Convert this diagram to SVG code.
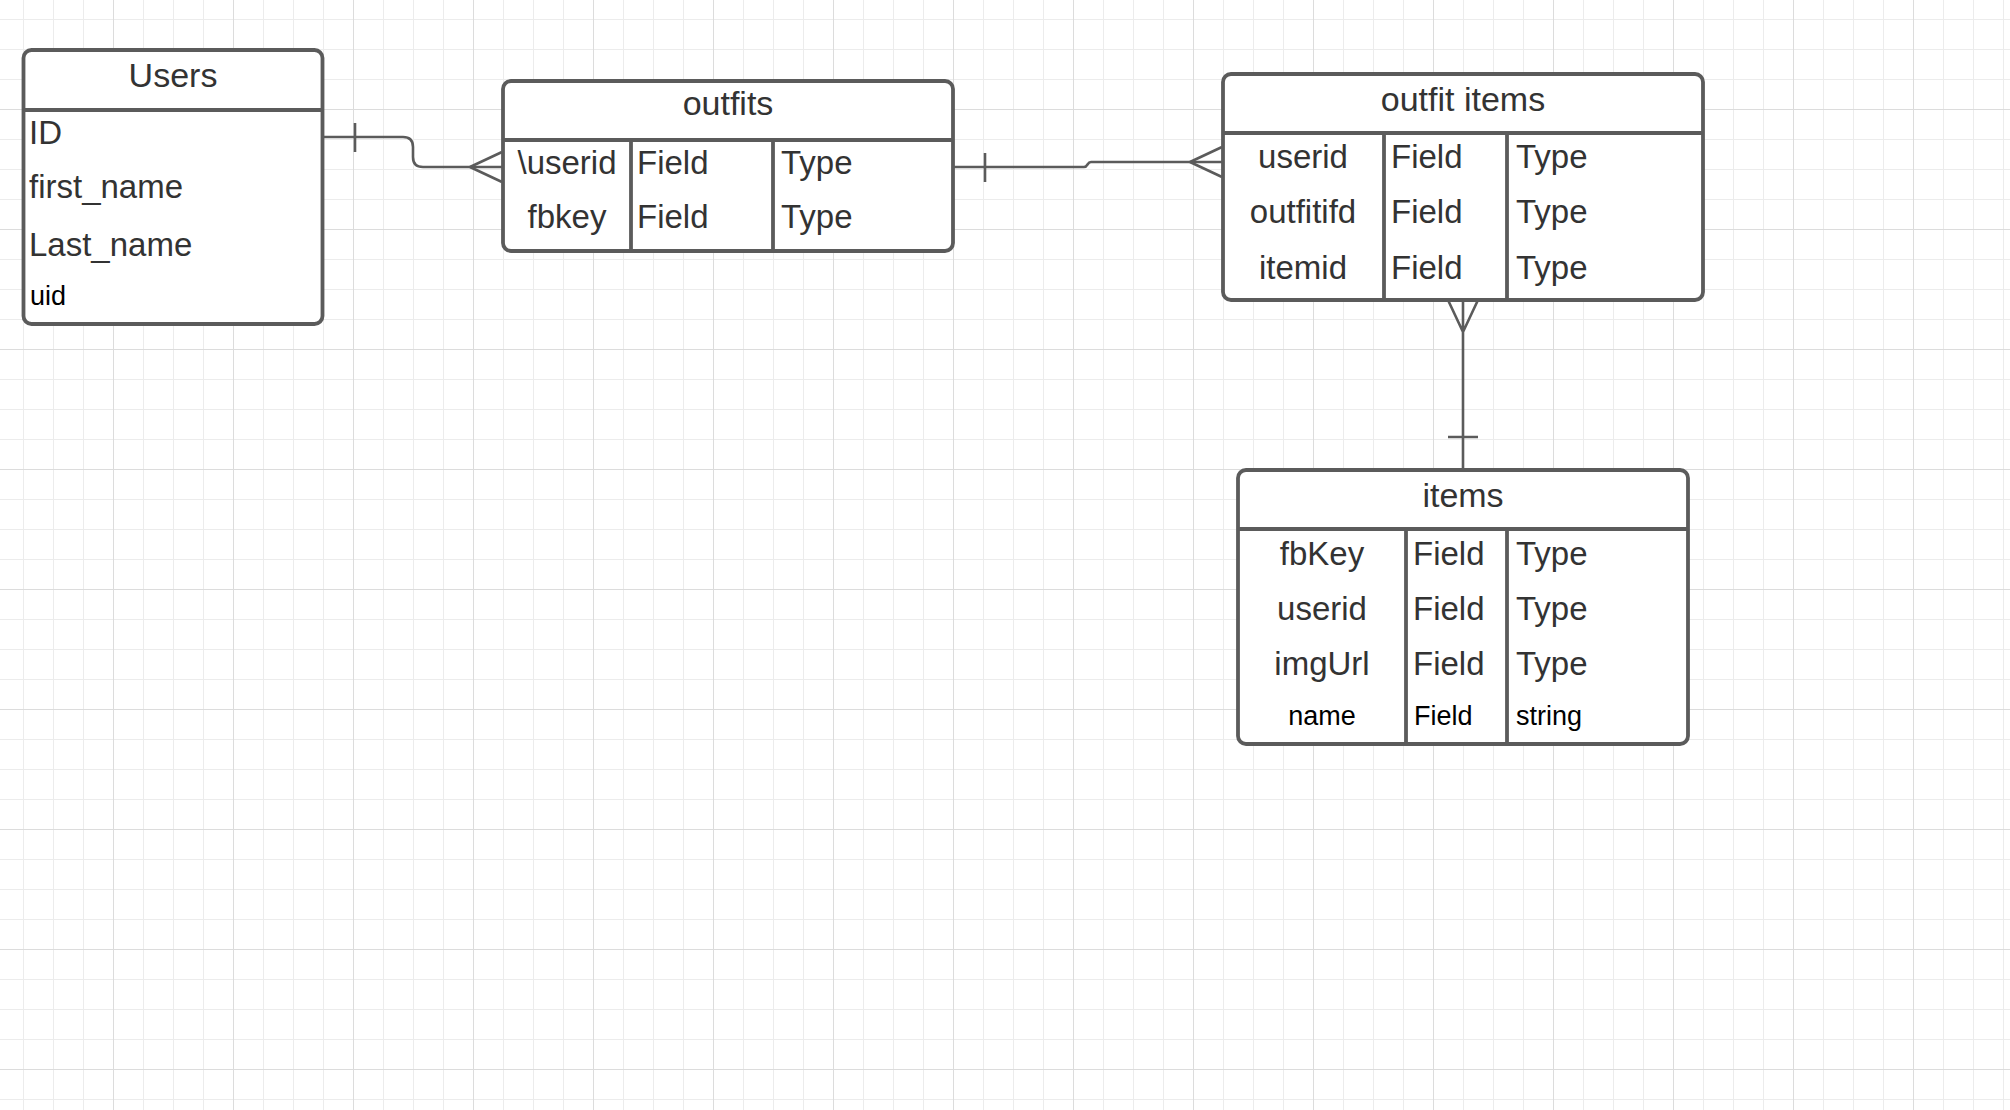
<svg xmlns="http://www.w3.org/2000/svg" width="2010" height="1110" viewBox="0 0 2010 1110">
<defs>
<pattern id="grid" x="23" y="19" width="120" height="120" patternUnits="userSpaceOnUse">
<path d="M0.5 0V120M30.5 0V120M60.5 0V120M0 0.5H120M0 30.5H120M0 60.5H120" stroke="#ececec" stroke-width="1" fill="none"/>
<path d="M90.5 0V120M0 90.5H120" stroke="#dcdcdc" stroke-width="1" fill="none"/>
</pattern>
<style>
.box{fill:#fff;stroke:#5b5b5b;stroke-width:3.8}
.ln{stroke:#5b5b5b;stroke-width:3.8;fill:none}
.con{stroke:#5b5b5b;stroke-width:2.6;fill:none}
text{font-family:"Liberation Sans",Arial,sans-serif;font-size:33px;fill:#333}
.t{text-anchor:middle;font-size:34px}
.c{text-anchor:middle}
.s{font-size:27px;fill:#000}
</style>
</defs>
<rect width="2010" height="1110" fill="#fff"/>
<rect width="2010" height="1110" fill="url(#grid)"/>

<g id="connectors">
<path class="con" d="M322 137H403Q413 137 413 147V157Q413 167 423 167H502"/>
<path class="con" d="M355 123V152M470 167L502 152M470 167L502 182"/>
<path class="con" d="M953 167H1084C1088 167 1087 162 1091 162H1222"/>
<path class="con" d="M985 153V182M1190 162L1222 147M1190 162L1222 177"/>
<path class="con" d="M1463 300V470M1448 300L1463 332L1478 300M1448 437H1478"/>
</g>

<g id="users">
<rect class="box" x="23.5" y="50" width="299" height="274" rx="8"/>
<path class="ln" d="M23.5 110H322.5"/>
<text class="t" x="173" y="87">Users</text>
<text x="29" y="144">ID</text>
<text x="29" y="198">first_name</text>
<text x="29" y="256">Last_name</text>
<text class="s" x="30" y="305">uid</text>
</g>

<g id="outfits">
<rect class="box" x="503" y="81" width="450" height="170" rx="8"/>
<path class="ln" d="M503 140H953M631 140V251M773 140V251"/>
<text class="t" x="728" y="115">outfits</text>
<text class="c" x="567" y="174">\userid</text>
<text class="c" x="567" y="228">fbkey</text>
<text x="637" y="174">Field</text>
<text x="637" y="228">Field</text>
<text x="781" y="174">Type</text>
<text x="781" y="228">Type</text>
</g>

<g id="outfit-items">
<rect class="box" x="1223" y="74" width="480" height="226" rx="8"/>
<path class="ln" d="M1223 133H1703M1384 133V300M1507 133V300"/>
<text class="t" x="1463" y="111">outfit items</text>
<text class="c" x="1303" y="168">userid</text>
<text class="c" x="1303" y="223">outfitifd</text>
<text class="c" x="1303" y="279">itemid</text>
<text x="1391" y="168">Field</text>
<text x="1391" y="223">Field</text>
<text x="1391" y="279">Field</text>
<text x="1516" y="168">Type</text>
<text x="1516" y="223">Type</text>
<text x="1516" y="279">Type</text>
</g>

<g id="items">
<rect class="box" x="1238" y="470" width="450" height="274" rx="8"/>
<path class="ln" d="M1238 529H1688M1406 529V744M1507 529V744"/>
<text class="t" x="1463" y="507">items</text>
<text class="c" x="1322" y="565">fbKey</text>
<text class="c" x="1322" y="620">userid</text>
<text class="c" x="1322" y="675">imgUrl</text>
<text class="c s" x="1322" y="725">name</text>
<text x="1413" y="565">Field</text>
<text x="1413" y="620">Field</text>
<text x="1413" y="675">Field</text>
<text class="s" x="1414" y="725">Field</text>
<text x="1516" y="565">Type</text>
<text x="1516" y="620">Type</text>
<text x="1516" y="675">Type</text>
<text class="s" x="1516" y="725">string</text>
</g>
</svg>
